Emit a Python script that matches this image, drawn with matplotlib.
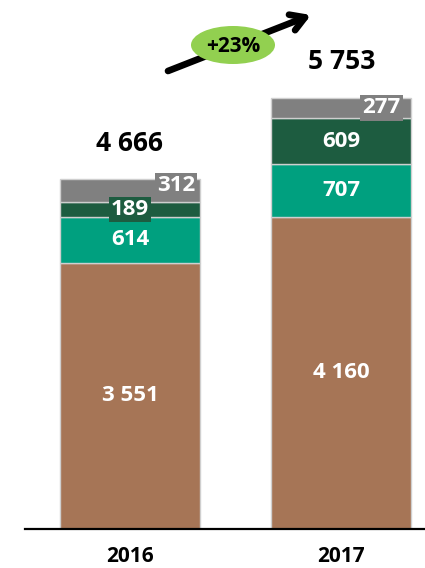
import matplotlib
matplotlib.use("Agg")
import matplotlib.pyplot as plt
from matplotlib.patches import Ellipse

years = ["2016", "2017"]
base = [3551, 4160]
mid = [614, 707]
upper = [189, 609]
other = [312, 277]
totals = [4666, 5753]
growth_label = "+23%"

colors = ["#A67556", "#00A07F", "#1D5C40", "#808080"]
label_font = ["Open Sans", "DejaVu Sans"]


def fmt(v):
    return f"{v:,}".replace(",", " ")


fig = plt.figure(figsize=(4.25, 5.68), dpi=100)
ax = fig.add_axes([25 / 425, 39 / 568, 400 / 425, 529 / 568])

x = [0, 1]
width = 0.662
bottoms = [0, 0]
series = [base, mid, upper, other]
for vals, color in zip(series, colors):
    ax.bar(x, vals, width, bottom=bottoms, color=color,
           edgecolor="#cfcfcf", linewidth=1.0, zorder=2)
    bottoms = [b + v for b, v in zip(bottoms, vals)]

ax.set_xlim(-0.4965, 1.395)
ax.set_ylim(0, 7053)

# segment labels; the thin segments get a boxed label
for i in range(2):
    y0 = 0
    for k, (vals, color) in enumerate(zip(series, colors)):
        v = vals[i]
        yc = y0 + v / 2
        kw = dict(ha="center", va="center", color="white", fontsize=16,
                  fontweight="bold", family=label_font, zorder=3)
        if k == 3:
            dx = [0.218, 0.19][i]
            dy = [70, 0][i]
            ax.text(x[i] + dx, yc + dy, fmt(v),
                    bbox=dict(boxstyle="square,pad=0.1", fc=color, ec="none"), **kw)
        elif k == 2 and i == 0:
            ax.text(x[i], yc, fmt(v),
                    bbox=dict(boxstyle="square,pad=0.1", fc=color, ec="none"), **kw)
        else:
            ax.text(x[i], yc, fmt(v), **kw)
        y0 += v
    ax.text(x[i], totals[i] + 300, fmt(totals[i]),
            ha="center", va="bottom", color="black", fontsize=19,
            fontweight="bold", family=label_font)

for s in ["top", "right", "left"]:
    ax.spines[s].set_visible(False)
ax.spines["bottom"].set_linewidth(1.6)
ax.spines["bottom"].set_color("black")
ax.set_yticks([])
ax.set_xticks(x)
ax.set_xticklabels(years, fontsize=15, fontweight="bold", family=label_font)
ax.tick_params(axis="x", length=0, pad=12)

# growth arrow with badge, drawn in pixel coordinates
ax_arrow = fig.add_axes([0, 0, 1, 1], facecolor="none")
ax_arrow.set_xlim(0, 425)
ax_arrow.set_ylim(568, 0)
ax_arrow.axis("off")
ax_arrow.annotate("", xy=(311, 15), xytext=(168, 71),
                  arrowprops=dict(arrowstyle="->,head_length=1.0,head_width=0.6",
                                  color="black", lw=4.8, shrinkA=0, shrinkB=0))
ax_arrow.add_patch(Ellipse((233, 45), 84, 38, facecolor="#92D050", edgecolor="none", zorder=3))
ax_arrow.text(233, 46, growth_label, ha="center", va="center", fontsize=15,
              fontweight="bold", family=label_font, zorder=4)

fig.savefig("out.png", dpi=100)
